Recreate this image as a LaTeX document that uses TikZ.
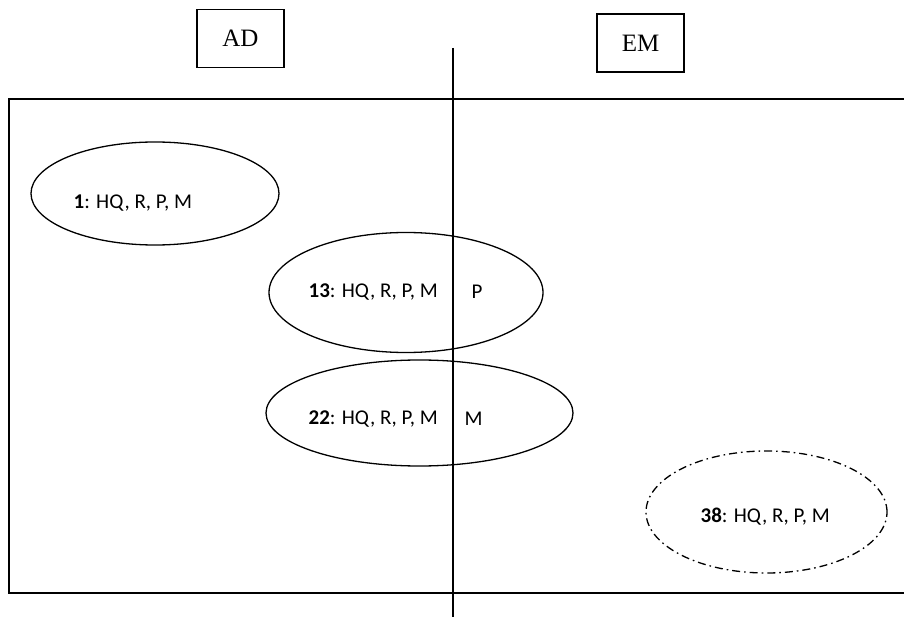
\documentclass[tikz,border=0pt]{standalone}
\usepackage{fontspec}
\setmainfont{Liberation Serif}
\newfontfamily\calfont{Carlito}
\usetikzlibrary{shapes.geometric}
\begin{document}
\begin{tikzpicture}[x=1pt,y=-1pt,line width=1.3pt,
  tag/.style={draw,rectangle,minimum width=87pt,minimum height=58pt,inner sep=0pt,font=\fontsize{25}{28}\selectfont},
  blob/.style={draw,ellipse,inner sep=0pt},
  dashdotline/.style={dash pattern=on 8pt off 4pt on 1.6pt off 4pt},
  lbl/.style={anchor=west,inner sep=0pt,font=\calfont\fontsize{21}{24}\selectfont}]
  \useasboundingbox (0,0) rectangle (904,617);

  % frame, open on the right side
  \coordinate (ftr) at (905,99);
  \coordinate (ftl) at (9,99);
  \coordinate (fbl) at (9,593);
  \coordinate (fbr) at (905,593);
  \draw (ftr) -- (ftl) -- (fbl) -- (fbr);

  % headings
  \node[tag] (ad) at (240.5,38.5) {AD};
  \node[tag] (em) at (640.5,43) {EM};

  % dividing line
  \coordinate (dtop) at (453,48);
  \coordinate (dbot) at (453,617);
  \draw (dtop) -- (dbot);

  % groups
  \node[blob,minimum width=248pt,minimum height=103pt] (e1) at (155,193.5) {};
  \node[blob,minimum width=274pt,minimum height=120pt] (e13) at (406,292.5) {};
  \node[blob,minimum width=307pt,minimum height=106pt] (e22) at (419.5,413) {};
  \node[blob,dashdotline,minimum width=241pt,minimum height=122pt] (e38) at (766.5,512) {};

  \node[lbl] (t1) at (73,203) {\textbf{1}: HQ, R, P, M};
  \node[lbl] (t13) at (308,292) {\textbf{13}: HQ, R, P, M};
  \node[lbl] (p13) at (471,292) {P};
  \node[lbl] (t22) at (308,419) {\textbf{22}: HQ, R, P, M};
  \node[lbl] (m22) at (464,419) {M};
  \node[lbl] (t38) at (700,517) {\textbf{38}: HQ, R, P, M};
\end{tikzpicture}
\end{document}
